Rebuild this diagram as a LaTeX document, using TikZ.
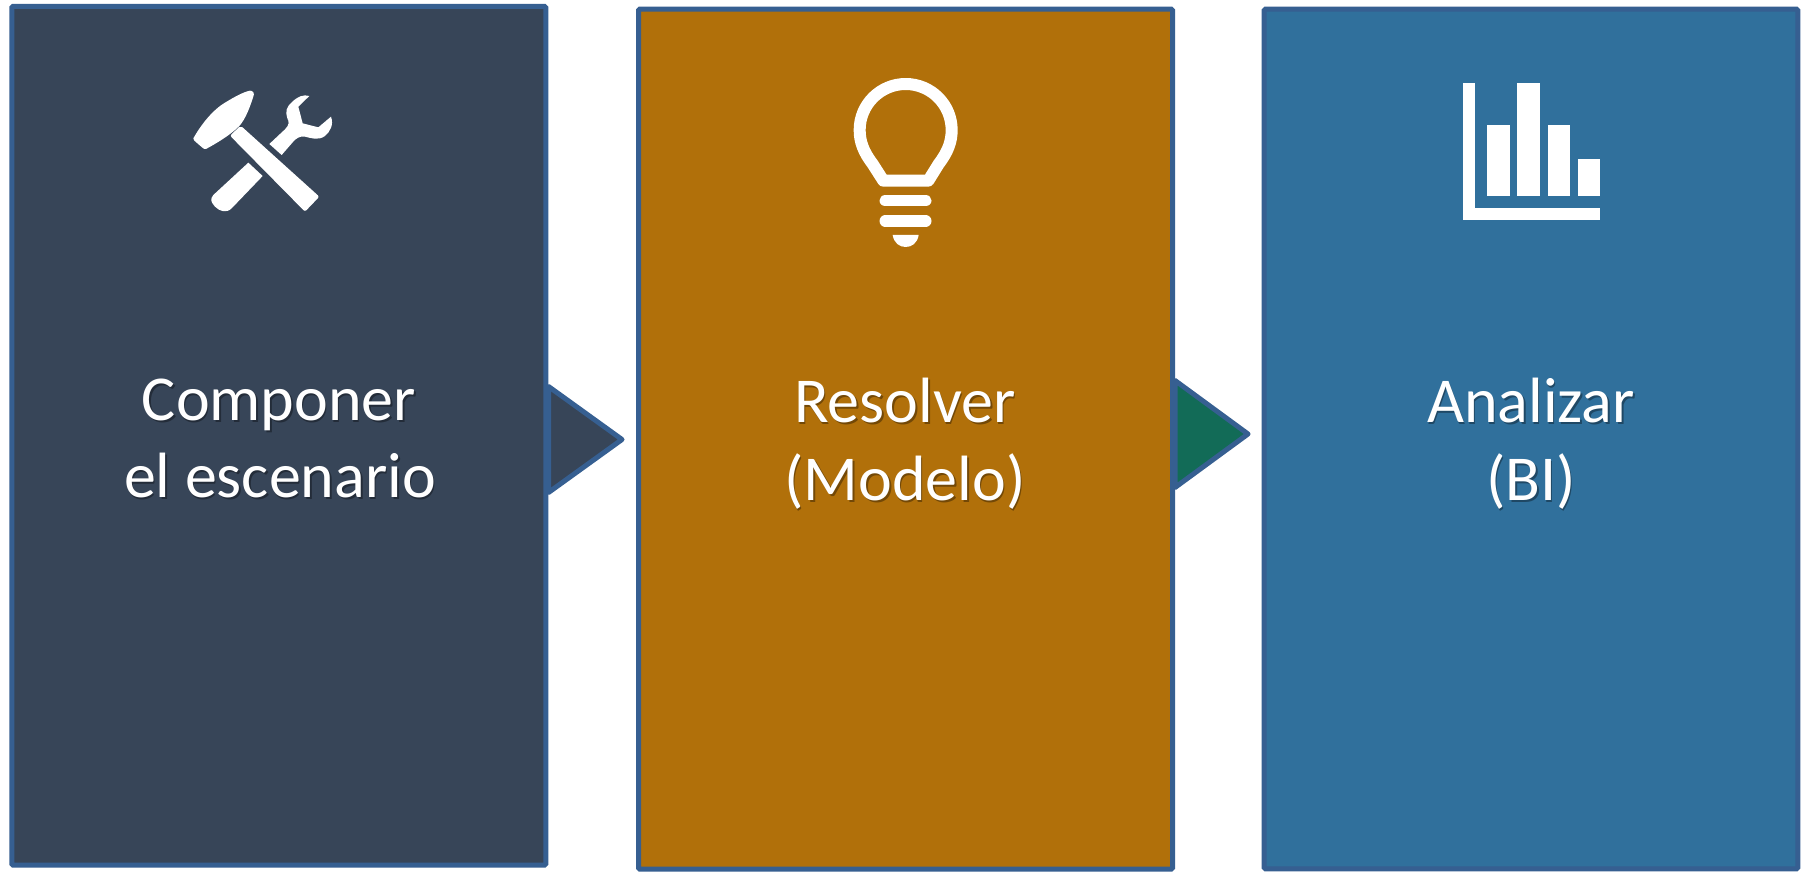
\documentclass[tikz,border=0pt]{standalone}
\usepackage{fontspec}
\setmainfont{Carlito}
\definecolor{edgeblue}{HTML}{365F91}
\definecolor{slatefill}{HTML}{374558}
\definecolor{amberfill}{HTML}{B1700A}
\definecolor{bluefill}{HTML}{30709C}
\definecolor{tealfill}{HTML}{126B57}
\tikzset{
  panel/.style={draw=edgeblue,line width=3.75pt,rounded corners=1pt,inner sep=0pt,outer sep=0pt,anchor=center},
  wedge/.style={draw=edgeblue,line width=3.75pt,line join=round},
  icon/.style={fill=white,draw=none},
  caption/.style={text=white,font=\fontsize{48}{58}\selectfont,anchor=base,inner sep=0pt},
  capshadow/.style={text=black,opacity=.35,font=\fontsize{48}{58}\selectfont,anchor=base,inner sep=0pt},
  iconzoom/.style={x=.25pt,y=-.25pt},
}
\newcommand{\shadowtext}[4]{%
  \node[capshadow] (#1s) at (#2+1.5,#3+1.5) {#4};
  \node[caption] (#1) at (#2,#3) {#4};}
\begin{document}
\begin{tikzpicture}[x=.75pt,y=-.75pt]
\useasboundingbox[fill=white] (0,0) rectangle (1807,873);
% connectors
\path[wedge,fill=slatefill] (548.5,386.5) -- (622,439.5) -- (548.5,492.5) -- cycle;
\path[wedge,fill=tealfill] (1175,380.5) -- (1248,434) -- (1175,487.5) -- cycle;
% panels
\node[panel,fill=slatefill,minimum width=400.5pt,minimum height=644.1pt] (compose) at (278.8,435.75) {};
\node[panel,fill=amberfill,minimum width=400.5pt,minimum height=645pt] (solve) at (905.5,439.2) {};
\node[panel,fill=bluefill,minimum width=400.2pt,minimum height=644.8pt] (analyze) at (1531,439) {};
% captions
\shadowtext{c1}{279}{421}{Componer}
\shadowtext{c2}{280}{498}{el escenario}
\shadowtext{r1}{905}{423}{Resolver}
\shadowtext{r2}{905}{501}{(Modelo)}
\shadowtext{a1}{1531}{423}{Analizar}
\shadowtext{a2}{1531}{501}{(BI)}
% tools icon
\begin{scope}[shift={(170,70)},iconzoom]
\fill[icon] (70,205) .. controls (90,170) and (125,120) .. (170,95) .. controls (195,80) and (220,66) .. (240,62)
  .. controls (250,62) and (254,70) .. (250,80) .. controls (240,110) and (228,145) .. (208,168)
  .. controls (178,198) and (135,222) .. (108,237) .. controls (104,238) and (100,236) .. (96,232) -- (73,212) .. controls (69,209) and (69,207) .. (70,205) -- cycle;
\fill[icon,rounded corners=1.5pt] (180,197) -- (212,167) -- (448,380) -- (405,425) -- cycle;
\fill[icon] (235,278) -- (278,318) -- (185,415) .. controls (170,430) and (150,425) .. (135,410) .. controls (122,395) and (120,388) .. (130,375) -- cycle;
\fill[icon] (298,222) -- (345,178) .. controls (358,165) and (358,155) .. (352,145) .. controls (345,125) and (350,110) .. (365,97)
  .. controls (385,78) and (400,73) .. (418,78) -- (385,110) -- (398,160) -- (445,172) -- (483,140)
  .. controls (492,165) and (480,185) .. (465,198) .. controls (445,212) and (425,205) .. (405,200) .. controls (390,197) and (378,205) .. (368,217) -- (335,255) -- cycle;
\end{scope}
% bulb icon
\begin{scope}[shift={(830,60)},iconzoom]
\draw[white,line width=9pt,line join=round] (160,362) -- (128,312) .. controls (100,275) and (89,245) .. (89,210)
  arc[start angle=180,end angle=0,x radius=138,y radius=-138]
  .. controls (365,245) and (354,275) .. (326,312) -- (295,362) -- cycle;
\draw[white,line width=8.75pt,line cap=round] (166,422) -- (287,422);
\draw[white,line width=8.75pt,line cap=round] (166,483) -- (287,483);
\fill[icon] (188,525) -- (266,525) .. controls (262,550) and (245,561) .. (227,561) .. controls (209,561) and (192,550) .. (188,525) -- cycle;
\end{scope}
% chart icon
\begin{scope}[shift={(1440,70)},iconzoom]
\fill[icon] (70,40) rectangle (106,450);
\fill[icon] (70,413) rectangle (480,450);
\fill[icon] (142,166) rectangle (209,378);
\fill[icon] (232,40) rectangle (299,378);
\fill[icon] (323,166) rectangle (390,378);
\fill[icon] (414,268) rectangle (480,378);
\end{scope}
\end{tikzpicture}
\end{document}
